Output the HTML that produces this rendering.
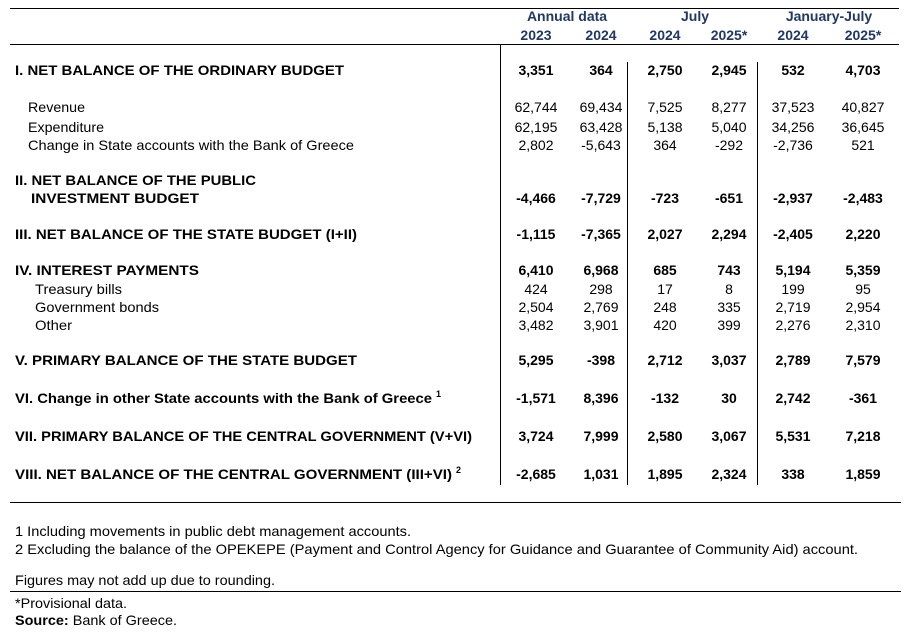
<!DOCTYPE html>
<html><head><meta charset="utf-8"><style>
html,body{margin:0;padding:0;background:#fff;}
svg{display:block;font-family:"Liberation Sans",Arial,sans-serif;}
.b{font-weight:bold;}
.h{font-weight:bold;fill:#1f3864;}
</style></head><body>
<svg width="911" height="633" viewBox="0 0 911 633" font-size="14" fill="#000">
<g stroke="#000" stroke-width="1">
<line x1="10" y1="8.5" x2="899" y2="8.5"/>
<line x1="10" y1="44.5" x2="899" y2="44.5"/>
<line x1="500.5" y1="44" x2="500.5" y2="485"/>
<line x1="627.5" y1="62" x2="627.5" y2="485"/>
<line x1="757.5" y1="62" x2="757.5" y2="485"/>
<line x1="10" y1="502.5" x2="901" y2="502.5"/>
<line x1="10" y1="591.5" x2="901" y2="591.5"/>
</g>
<g class="h" text-anchor="middle">
<text x="567" y="21">Annual data</text>
<text x="695" y="21">July</text>
<text x="829" y="21">January-July</text>
<text x="536" y="40">2023</text><text x="601" y="40">2024</text>
<text x="665" y="40">2024</text><text x="729" y="40">2025*</text>
<text x="793" y="40">2024</text><text x="863" y="40">2025*</text>
</g>
<g>
<text class="b" x="15" y="75" textLength="329" lengthAdjust="spacingAndGlyphs">I. NET BALANCE OF THE ORDINARY BUDGET</text>
<text x="28" y="112" textLength="57" lengthAdjust="spacingAndGlyphs">Revenue</text>
<text x="28" y="132" textLength="76" lengthAdjust="spacingAndGlyphs">Expenditure</text>
<text x="28" y="150" textLength="326" lengthAdjust="spacingAndGlyphs">Change in State accounts with the Bank of Greece</text>
<text class="b" x="15" y="185" textLength="241" lengthAdjust="spacingAndGlyphs">II. NET BALANCE OF THE PUBLIC</text>
<text class="b" x="31" y="203" textLength="168" lengthAdjust="spacingAndGlyphs">INVESTMENT BUDGET</text>
<text class="b" x="15" y="239" textLength="342" lengthAdjust="spacingAndGlyphs">III. NET BALANCE OF THE STATE BUDGET (I+II)</text>
<text class="b" x="15" y="275" textLength="184" lengthAdjust="spacingAndGlyphs">IV. INTEREST PAYMENTS</text>
<text x="35" y="294" textLength="87" lengthAdjust="spacingAndGlyphs">Treasury bills</text>
<text x="35" y="312" textLength="124" lengthAdjust="spacingAndGlyphs">Government bonds</text>
<text x="35" y="330" textLength="37" lengthAdjust="spacingAndGlyphs">Other</text>
<text class="b" x="15" y="365" textLength="342" lengthAdjust="spacingAndGlyphs">V. PRIMARY BALANCE OF THE STATE BUDGET</text>
<text class="b" x="15" y="403" textLength="417" lengthAdjust="spacingAndGlyphs">VI. Change in other State accounts with the Bank of Greece</text>
<text class="b" x="436" y="397" font-size="9">1</text>
<text class="b" x="15" y="441" textLength="457" lengthAdjust="spacingAndGlyphs">VII. PRIMARY BALANCE OF THE CENTRAL GOVERNMENT (V+VI)</text>
<text class="b" x="15" y="479" textLength="437" lengthAdjust="spacingAndGlyphs">VIII. NET BALANCE OF THE CENTRAL GOVERNMENT (III+VI)</text>
<text class="b" x="456" y="473" font-size="9">2</text>
<text x="15" y="536" textLength="396" lengthAdjust="spacingAndGlyphs">1 Including movements in public debt management accounts.</text>
<text x="15" y="554" textLength="843" lengthAdjust="spacingAndGlyphs">2 Excluding the balance of the OPEKEPE (Payment and Control Agency for Guidance and Guarantee of  Community Aid) account.</text>
<text x="15" y="585" textLength="260" lengthAdjust="spacingAndGlyphs">Figures may not add up due to rounding.</text>
<text x="15" y="608" textLength="112" lengthAdjust="spacingAndGlyphs">*Provisional data.</text>
<text x="15" y="625" textLength="162" lengthAdjust="spacingAndGlyphs"><tspan font-weight="bold">Source:</tspan> Bank of Greece.</text>
</g>
<g text-anchor="middle">
<g class="b"><text x="536" y="75">3,351</text><text x="601" y="75">364</text><text x="665" y="75">2,750</text><text x="729" y="75">2,945</text><text x="793" y="75">532</text><text x="863" y="75">4,703</text></g>
<text x="536" y="112">62,744</text><text x="601" y="112">69,434</text><text x="665" y="112">7,525</text><text x="729" y="112">8,277</text><text x="793" y="112">37,523</text><text x="863" y="112">40,827</text>
<text x="536" y="132">62,195</text><text x="601" y="132">63,428</text><text x="665" y="132">5,138</text><text x="729" y="132">5,040</text><text x="793" y="132">34,256</text><text x="863" y="132">36,645</text>
<text x="536" y="150">2,802</text><text x="601" y="150">-5,643</text><text x="665" y="150">364</text><text x="729" y="150">-292</text><text x="793" y="150">-2,736</text><text x="863" y="150">521</text>
<g class="b">
<text x="536" y="203">-4,466</text><text x="601" y="203">-7,729</text><text x="665" y="203">-723</text><text x="729" y="203">-651</text><text x="793" y="203">-2,937</text><text x="863" y="203">-2,483</text>
<text x="536" y="239">-1,115</text><text x="601" y="239">-7,365</text><text x="665" y="239">2,027</text><text x="729" y="239">2,294</text><text x="793" y="239">-2,405</text><text x="863" y="239">2,220</text>
<text x="536" y="275">6,410</text><text x="601" y="275">6,968</text><text x="665" y="275">685</text><text x="729" y="275">743</text><text x="793" y="275">5,194</text><text x="863" y="275">5,359</text>
</g>
<text x="536" y="294">424</text><text x="601" y="294">298</text><text x="665" y="294">17</text><text x="729" y="294">8</text><text x="793" y="294">199</text><text x="863" y="294">95</text>
<text x="536" y="312">2,504</text><text x="601" y="312">2,769</text><text x="665" y="312">248</text><text x="729" y="312">335</text><text x="793" y="312">2,719</text><text x="863" y="312">2,954</text>
<text x="536" y="330">3,482</text><text x="601" y="330">3,901</text><text x="665" y="330">420</text><text x="729" y="330">399</text><text x="793" y="330">2,276</text><text x="863" y="330">2,310</text>
<g class="b">
<text x="536" y="365">5,295</text><text x="601" y="365">-398</text><text x="665" y="365">2,712</text><text x="729" y="365">3,037</text><text x="793" y="365">2,789</text><text x="863" y="365">7,579</text>
<text x="536" y="403">-1,571</text><text x="601" y="403">8,396</text><text x="665" y="403">-132</text><text x="729" y="403">30</text><text x="793" y="403">2,742</text><text x="863" y="403">-361</text>
<text x="536" y="441">3,724</text><text x="601" y="441">7,999</text><text x="665" y="441">2,580</text><text x="729" y="441">3,067</text><text x="793" y="441">5,531</text><text x="863" y="441">7,218</text>
<text x="536" y="479">-2,685</text><text x="601" y="479">1,031</text><text x="665" y="479">1,895</text><text x="729" y="479">2,324</text><text x="793" y="479">338</text><text x="863" y="479">1,859</text>
</g>
</g>
</svg>
</body></html>
